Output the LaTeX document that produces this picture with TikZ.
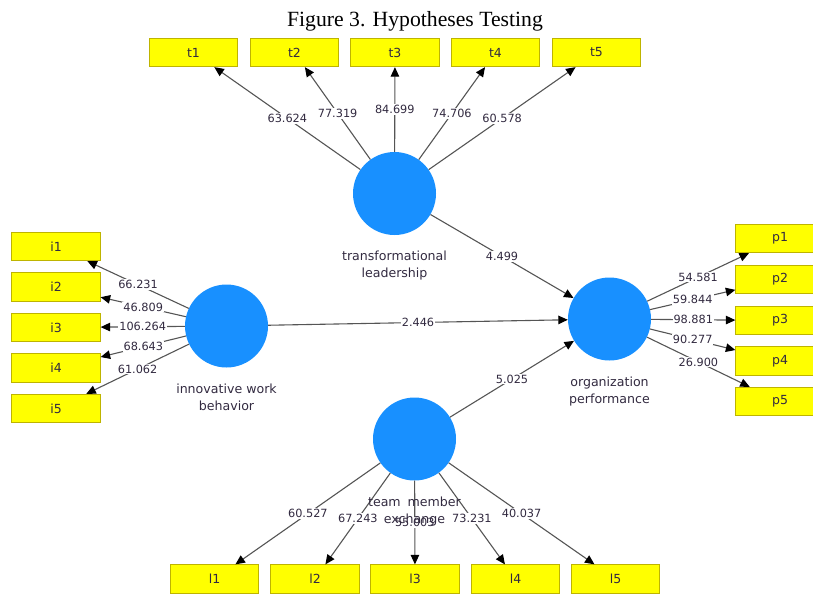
\documentclass[tikz,border=0pt]{standalone}
\usepackage{fontspec}
\setmainfont{Liberation Serif}
\newfontfamily\plsfont{DejaVu Sans}
\usetikzlibrary{arrows.meta,calc}
\definecolor{circ}{RGB}{24,144,255}
\definecolor{boxedge}{RGB}{190,180,0}
\definecolor{boxfill}{RGB}{255,255,0}
\definecolor{txt}{RGB}{50,42,64}
\definecolor{linec}{RGB}{85,85,85}
\begin{document}
\begin{tikzpicture}[x=1pt,y=-1pt,
  lv/.style={circle,fill=circ,minimum size=83pt,inner sep=0pt},
  ind/.style={rectangle,draw=boxedge,line width=0.8pt,fill=boxfill,minimum width=88.5pt,minimum height=28.5pt,inner sep=0pt,font=\plsfont\fontsize{12.5}{14}\selectfont,text=txt},
  pathline/.style={draw=linec,line width=1.1pt,-{Triangle[length=9.5pt,width=8.5pt,color=black]}},
  num/.style={fill=white,inner sep=1pt,font=\plsfont\fontsize{11.3}{13}\selectfont,text=txt,midway},
  clab/.style={align=center,anchor=north,inner sep=0pt,font=\plsfont\fontsize{12.6}{17}\selectfont,text=txt}]
\useasboundingbox (0,0) rectangle (813,595);
% title
\node[anchor=base,inner sep=0pt] (title) at (415,26) {\fontsize{21.7}{24}\selectfont Figure 3. Hypotheses Testing};
% latent variables
\node[lv] (tl) at (394.5,193.5) {};
\node[lv] (iwb) at (226.5,326) {};
\node[lv] (op) at (609.5,319) {};
\node[lv] (tme) at (414.5,439) {};
% indicators
\foreach \k/\x in {1/193.5,2/294.5,3/395,4/495.5,5/596.5}
  \node[ind] (t\k) at (\x,52.5) {t\k};
\foreach \k/\y in {1/246.5,2/287,3/327.5,4/368,5/408.5}
  \node[ind] (i\k) at (56,\y) {i\k};
\foreach \k/\y in {1/238.5,2/279.5,3/320.5,4/361,5/401.5}
  \node[ind] (p\k) at (780,\y) {p\k};
\foreach \k/\x in {1/214.5,2/315,3/415,4/515.5,5/615.5}
  \node[ind] (l\k) at (\x,579) {l\k};
% outer loadings
\draw[pathline] (tl) -- node[num]{63.624} (t1);
\draw[pathline] (tl) -- node[num]{77.319} (t2);
\draw[pathline] (tl) -- node[num]{84.699} (t3);
\draw[pathline] (tl) -- node[num]{74.706} (t4);
\draw[pathline] (tl) -- node[num]{60.578} (t5);
\draw[pathline] (iwb) -- node[num]{66.231} (i1);
\draw[pathline] (iwb) -- node[num]{46.809} (i2);
\draw[pathline] (iwb) -- node[num]{106.264} (i3);
\draw[pathline] (iwb) -- node[num]{68.643} (i4);
\draw[pathline] (iwb) -- node[num]{61.062} (i5);
\draw[pathline] (op) -- node[num]{54.581} (p1);
\draw[pathline] (op) -- node[num]{59.844} (p2);
\draw[pathline] (op) -- node[num]{98.881} (p3);
\draw[pathline] (op) -- node[num]{90.277} (p4);
\draw[pathline] (op) -- node[num]{26.900} (p5);
\draw[pathline] (tme) -- node[num]{60.527} (l1);
\draw[pathline] (tme) -- node[num]{67.243} (l2);
\draw[pathline] (tme) -- node[num]{55.003} (l3);
\draw[pathline] (tme) -- node[num]{73.231} (l4);
\draw[pathline] (tme) -- node[num]{40.037} (l5);
% structural paths
\draw[pathline] (tl) -- node[num]{4.499} (op);
\draw[pathline] (iwb) -- node[num]{2.446} (op);
\draw[pathline] (tme) -- node[num]{5.025} (op);
% LV labels
\node[clab] (tlL) at ([yshift=-57.5pt]tl.center) {transformational\\leadership};
\node[clab] (iwbL) at ([yshift=-57.5pt]iwb.center) {innovative work\\behavior};
\node[clab] (opL) at ([yshift=-57.5pt]op.center) {organization\\performance};
\node[clab] (tmeL) at ([yshift=-57.5pt]tme.center) {team\hspace{0.55em}member\\exchange};
\end{tikzpicture}
\end{document}
